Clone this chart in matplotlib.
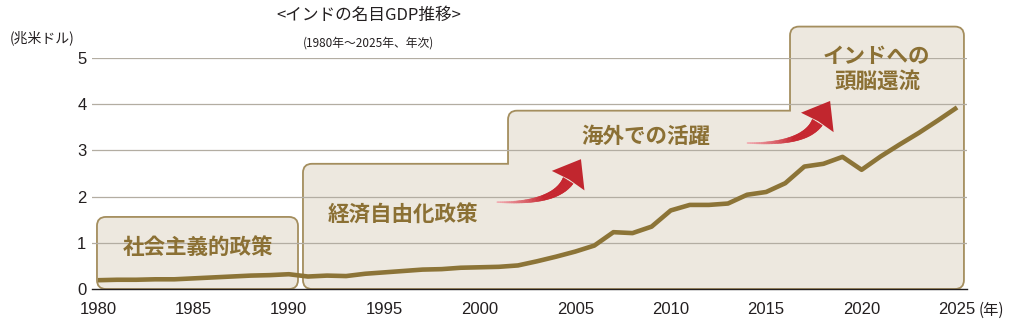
import numpy as np
import matplotlib
matplotlib.use('Agg')
import matplotlib.pyplot as plt
from matplotlib.path import Path
from matplotlib.patches import PathPatch, Polygon
from matplotlib.transforms import IdentityTransform
from matplotlib.colors import to_rgb

plt.rcParams['font.family'] = ['Liberation Sans', 'Noto Sans CJK JP', 'DejaVu Sans']
JP = ['Noto Sans CJK JP', 'DejaVu Sans']

# データ（兆米ドル）
years = list(range(1980, 2026))
gdp = [0.19, 0.20, 0.20, 0.21, 0.21, 0.23, 0.25, 0.27, 0.29, 0.30,
       0.32, 0.27, 0.29, 0.28, 0.33, 0.36, 0.39, 0.42, 0.43, 0.46,
       0.47, 0.48, 0.51, 0.60, 0.70, 0.81, 0.94, 1.23, 1.21, 1.35,
       1.70, 1.82, 1.82, 1.85, 2.04, 2.10, 2.29, 2.65, 2.71, 2.86,
       2.58, 2.87, 3.13, 3.38, 3.65, 3.93]
xticks = [1980, 1985, 1990, 1995, 2000, 2005, 2010, 2015, 2020, 2025]
yticks = [0, 1, 2, 3, 4, 5]
phases = ['社会主義的政策', '経済自由化政策', '海外での活躍', 'インドへの', '頭脳還流']

LINE = '#8C7437'
TXT = '#8B7034'
BOXFC = '#EDE8DF'
BOXEC = '#A48E5E'

fig = plt.figure(figsize=(10.16, 3.24), dpi=100)
ax = fig.add_axes([92/1016, 1-289/324, 875/1016, 231/324])
ax.set_xlim(1979.69, 2025.52)
ax.set_ylim(0, 5)


def rounded_box(verts, flags, rx, ry):
    n = len(verts)
    pts, codes = [], []
    for i, (x, y) in enumerate(verts):
        px, py = verts[i-1]
        nx, ny = verts[(i+1) % n]
        if flags[i]:
            a = (x + np.sign(px-x)*rx, y + np.sign(py-y)*ry)
            b = (x + np.sign(nx-x)*rx, y + np.sign(ny-y)*ry)
            pts += [a, (x, y), b]
            codes += [Path.LINETO, Path.CURVE3, Path.CURVE3]
        else:
            pts.append((x, y))
            codes.append(Path.LINETO)
    codes[0] = Path.MOVETO
    pts.append(pts[0])
    codes.append(Path.CLOSEPOLY)
    return Path(pts, codes)


rx, ry = 9/19.09, 9/46.1
box1 = rounded_box([(1979.95, 0), (1979.95, 1.56), (1990.48, 1.56), (1990.48, 0)],
                   [1, 1, 1, 1], rx, ry)
box2 = rounded_box([(1990.74, 0), (1990.74, 2.71), (2001.48, 2.71), (2001.48, 3.86),
                    (2016.25, 3.86), (2016.25, 5.68), (2025.36, 5.68), (2025.36, 0)],
                   [1, 1, 0, 1, 0, 1, 1, 1], rx, ry)
for p in (box1, box2):
    ax.add_patch(PathPatch(p, fc=BOXFC, ec=BOXEC, lw=1.3, zorder=1, clip_on=False))

# 目盛り線
for y in yticks[1:]:
    ax.axhline(y, color='#B3ADA2', lw=0.9, zorder=2)


def red_arrow(ax, tail, tip, angle=58, head_len=25, head_w=19, n=60):
    T = ax.transData
    p0 = T.transform(tail)
    p2 = T.transform(tip)
    dy = p2[1] - p0[1]
    c = np.array([p2[0] - dy/np.tan(np.radians(angle)), p0[1] - 2])
    u = (p2 - c) / np.linalg.norm(p2 - c)
    neck = p2 - head_len*u
    t = np.linspace(0, 1, n+1)
    pts = ((1-t)**2)[:, None]*p0 + (2*(1-t)*t)[:, None]*c + (t**2)[:, None]*neck
    d = np.gradient(pts, axis=0)
    nrm = np.stack([-d[:, 1], d[:, 0]], 1)
    nrm /= np.linalg.norm(nrm, axis=1)[:, None]
    w = 0.4 + 5.4*t**1.3
    left = pts + nrm*w[:, None]
    right = pts - nrm*w[:, None]
    c0, c1 = np.array(to_rgb('#F2A7AE')), np.array(to_rgb('#C6232D'))
    for i in range(n):
        f = min(1.0, t[i]/0.5)
        col = c0*(1-f) + c1*f
        ax.add_patch(Polygon([left[i], left[i+1], right[i+1], right[i]], closed=True,
                             fc=col, ec=col, lw=0.4, transform=IdentityTransform(),
                             clip_on=False, zorder=3))
    perp = np.array([-u[1], u[0]])
    ax.add_patch(Polygon([neck + perp*head_w, p2, neck - perp*head_w, neck + u*1.5],
                         closed=True, fc='#C1262E', ec='none',
                         transform=IdentityTransform(), clip_on=False, zorder=3))


red_arrow(ax, (2000.9, 1.88), (2005.3, 2.81))
red_arrow(ax, (2014.0, 3.16), (2018.35, 4.07))

ax.plot(years, gdp, color=LINE, lw=3.3, zorder=4, solid_capstyle='butt', clip_on=False)

# 局面ラベル
kw = dict(color=TXT, fontsize=15.5, family=JP, fontweight='bold', ha='center',
          va='center', zorder=3)
ax.text(1985.24, 0.89, phases[0], **kw)
ax.text(1995.98, 1.60, phases[1], **kw)
ax.text(2008.7, 3.30, phases[2], **kw)
ax.text(2020.8, 5.03, phases[3], clip_on=False, **kw)
ax.text(2020.8, 4.49, phases[4], clip_on=False, **kw)

for s in ('top', 'right', 'left'):
    ax.spines[s].set_visible(False)
ax.spines['bottom'].set_color('#231F20')
ax.spines['bottom'].set_linewidth(1.0)
ax.set_xticks(xticks)
ax.set_xticklabels([str(x) for x in xticks])
ax.set_yticks(yticks)
ax.tick_params(axis='both', length=0, labelsize=12, labelcolor='#231F20')
ax.tick_params(axis='x', pad=9)
ax.tick_params(axis='y', pad=4)
ax.text(2026.15, -0.455, '(年)', family=JP, fontsize=11, color='#231F20',
        ha='left', va='center', clip_on=False)

fig.text(369/1016, 1-15/324, '<インドの名目GDP推移>', family=JP, fontsize=12,
         ha='center', va='center', color='#231F20')
fig.text(368/1016, 1-43/324, '(1980年〜2025年、年次)', family=JP, fontsize=8.5,
         ha='center', va='center', color='#231F20')
fig.text(10/1016, 1-38/324, '(兆米ドル)', family=JP, fontsize=10,
         ha='left', va='center', color='#231F20')

fig.savefig('out.png', dpi=100)
